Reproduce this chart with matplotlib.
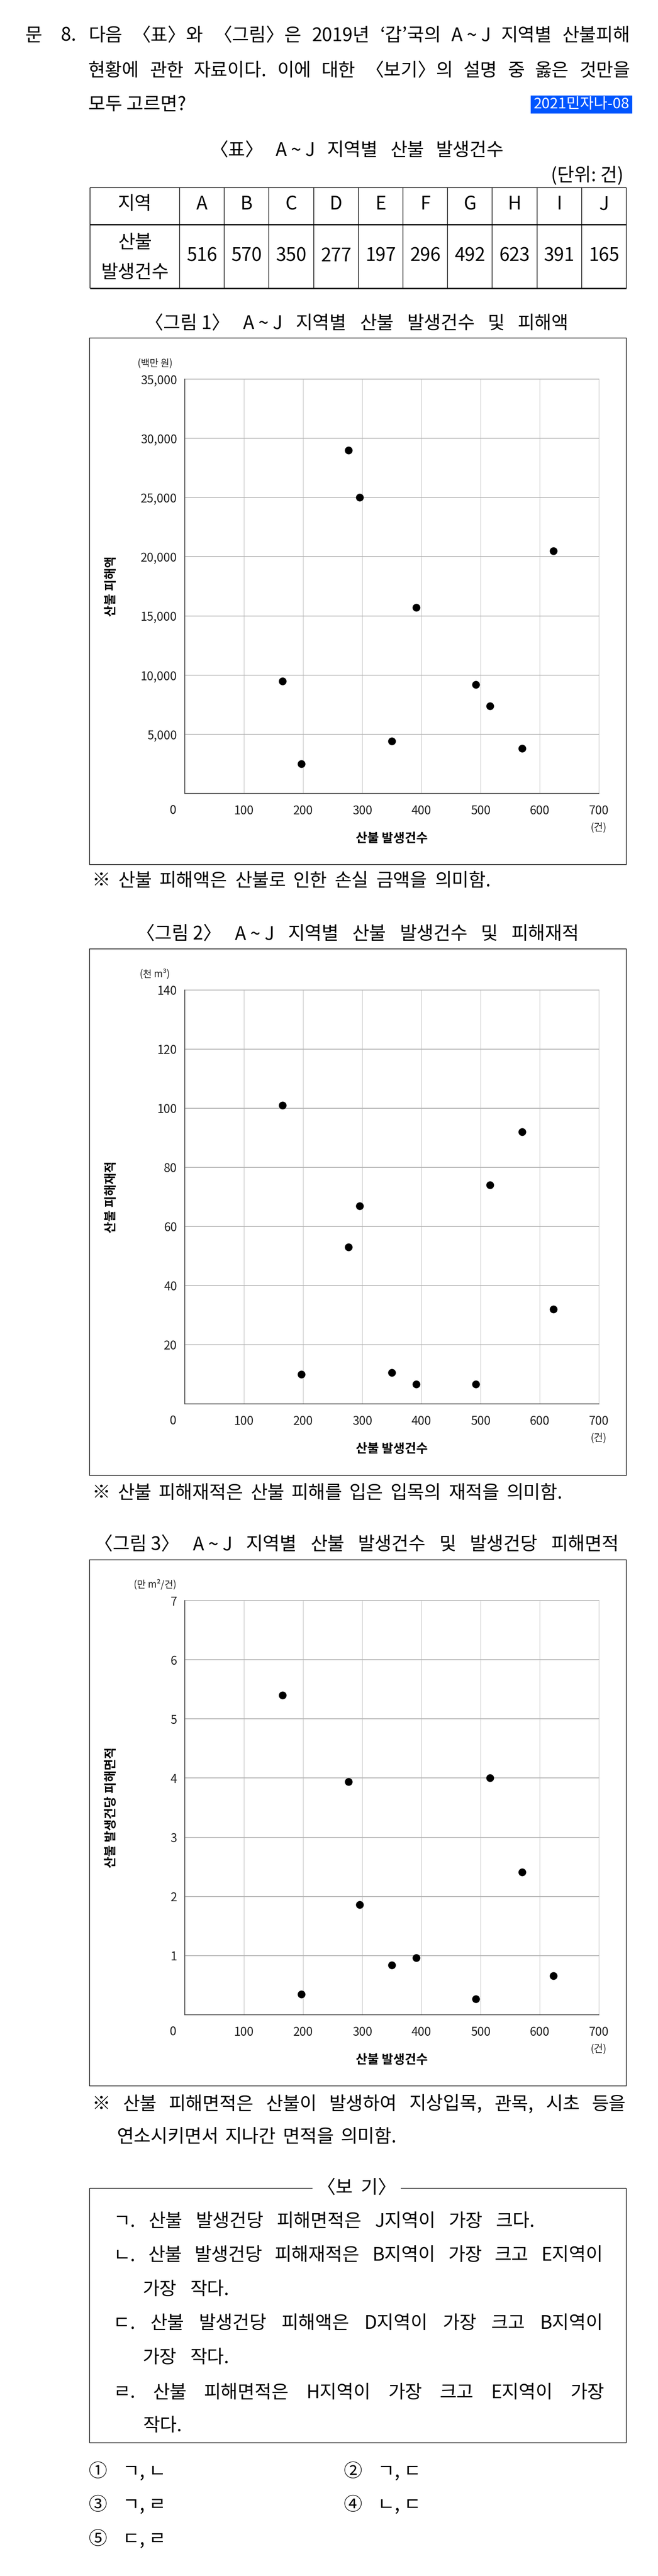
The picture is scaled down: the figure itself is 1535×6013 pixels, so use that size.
import matplotlib
matplotlib.use("Agg")
import matplotlib.pyplot as plt
from matplotlib.patches import Rectangle
from matplotlib.lines import Line2D
from matplotlib.ticker import FuncFormatter

plt.rcParams['font.family'] = ['Noto Sans CJK KR', 'DejaVu Sans']

# ---------------- data ----------------
regions = ['A', 'B', 'C', 'D', 'E', 'F', 'G', 'H', 'I', 'J']
fire_counts = [516, 570, 350, 277, 197, 296, 492, 623, 391, 165]
damage_amount = [7400, 3800, 4400, 29000, 2500, 25000, 9200, 20500, 15700, 9500]   # 백만 원
damage_volume = [74, 92, 10.6, 53, 10, 67, 6.6, 32, 6.6, 101]                     # 천 m3
area_per_fire = [4.0, 2.41, 0.84, 3.94, 0.35, 1.86, 0.27, 0.66, 0.96, 5.4]         # 만 m2/건

x_ticks = [0, 100, 200, 300, 400, 500, 600, 700]
fig1_yticks = [0, 5000, 10000, 15000, 20000, 25000, 30000, 35000]
fig2_yticks = [0, 20, 40, 60, 80, 100, 120, 140]
fig3_yticks = [0, 1, 2, 3, 4, 5, 6, 7]

# ---------------- figure helpers ----------------
W, H = 1535, 6013
fig = plt.figure(figsize=(W / 100, H / 100), dpi=100)
fig.patch.set_facecolor('white')
renderer = fig.canvas.get_renderer()

BODY = 31
TABLE = 31


def fx(x):
    return x / W


def fy(y):
    return 1 - y / H


def put(s, x, y, size=BODY, ha='left', va='center', **kw):
    return fig.text(fx(x), fy(y), s, fontsize=size, ha=ha, va=va, **kw)


def justify(words, x0, x1, y, size=BODY, **kw):
    ts = [put(w, 0, y, size, **kw) for w in words]
    ws = [t.get_window_extent(renderer).width for t in ts]
    if len(ts) > 1:
        gap = (x1 - x0 - sum(ws)) / (len(ts) - 1)
        gap = max(gap, size * 100 / 72 * 0.18)
    else:
        gap = 0
    x = x0
    for t, w in zip(ts, ws):
        t.set_x(fx(x))
        x += w + gap
    return ts


def hline(x0, x1, y, lw=1.1, color='black'):
    fig.add_artist(Line2D([fx(x0), fx(x1)], [fy(y), fy(y)], transform=fig.transFigure,
                          lw=lw, color=color, solid_capstyle='butt'))


def vline(x, y0, y1, lw=1.1, color='black'):
    fig.add_artist(Line2D([fx(x), fx(x)], [fy(y0), fy(y1)], transform=fig.transFigure,
                          lw=lw, color=color, solid_capstyle='butt'))


def frame(x0, y0, x1, y1, lw=1.1):
    fig.add_artist(Rectangle((fx(x0), fy(y1)), (x1 - x0) / W, (y1 - y0) / H,
                             transform=fig.transFigure, fill=False, lw=lw, ec='black'))


# ---------------- question text ----------------
put('문', 59, 84)
put('8.', 142, 84)
justify(['다음', '〈표〉와', '〈그림〉은', '2019년', '‘갑’국의', 'A ~ J', '지역별', '산불피해'],
        206, 1470, 84)
justify(['현황에', '관한', '자료이다.', '이에', '대한', '〈보기〉의', '설명', '중', '옳은', '것만을'],
        206, 1470, 166)
put('모두 고르면?', 206, 245)

fig.add_artist(Rectangle((fx(1238), fy(265)), (1475 - 1238) / W, (265 - 223) / H,
                         transform=fig.transFigure, fc='#0055ff', ec='none'))
put('2021민자나-08', 1356.5, 244, size=25, ha='center', color='white')

# ---------------- table ----------------
justify(['〈표〉', 'A ~ J', '지역별', '산불', '발생건수'], 490, 1175, 352)
put('(단위: 건)', 1455, 410, ha='right')

t_left, t_sep, t_right = 210, 419, 1461
t_top, t_mid, t_bot = 438, 524, 673
hline(t_left, t_right, t_top, lw=1.1)
hline(t_left, t_right, t_mid, lw=2.4)
hline(t_left, t_right, t_bot, lw=2.4)
vline(t_left, t_top, t_bot)
vline(t_right, t_top, t_bot)
col_w = (t_right - t_sep) / len(regions)
for i in range(len(regions)):
    vline(t_sep + col_w * i, t_top, t_bot)

put('지역', (t_left + t_sep) / 2, 477, size=TABLE, ha='center')
put('산불', (t_left + t_sep) / 2, 567, size=TABLE, ha='center')
put('발생건수', (t_left + t_sep) / 2, 637, size=TABLE, ha='center')
for i, (r, c) in enumerate(zip(regions, fire_counts)):
    cx = t_sep + col_w * (i + 0.5)
    put(r, cx, 477, size=TABLE, ha='center')
    put(str(c), cx, 598, size=TABLE, ha='center')


# ---------------- scatter charts ----------------
AX_L, AX_R = 431, 1397


def make_chart(top, bottom, yvals, yticks, ylabel, unit, fmt):
    ax = fig.add_axes([fx(AX_L), fy(bottom), (AX_R - AX_L) / W, (bottom - top) / H])
    ax.set_facecolor('white')
    ax.set_xlim(x_ticks[0], x_ticks[-1])
    ax.set_ylim(yticks[0], yticks[-1])
    ax.set_xticks(x_ticks)
    ax.set_yticks(yticks)
    ax.xaxis.set_major_formatter(FuncFormatter(lambda v, p: '' if v == 0 else f'{int(v)}'))
    ax.yaxis.set_major_formatter(FuncFormatter(lambda v, p: '' if v == 0 else fmt(v)))
    ax.tick_params(axis='both', length=0, labelsize=20, colors='#222222')
    ax.tick_params(axis='x', pad=29.5)
    ax.tick_params(axis='y', pad=13)
    for lbl in ax.get_xticklabels():
        lbl.set_va('center')
    ax.grid(axis='x', color='#c4c4c4', lw=0.9)
    ax.grid(axis='y', color='#b4b4b4', lw=1.4)
    ax.set_axisbelow(True)
    for ln in ax.get_xgridlines() + ax.get_ygridlines():
        ln.set_clip_on(False)
    for s in ['top', 'right']:
        ax.spines[s].set_visible(False)
    for s in ['left', 'bottom']:
        ax.spines[s].set_color('#444444')
        ax.spines[s].set_linewidth(1.3)
    ax.scatter(fire_counts, yvals, s=170, color='black', linewidths=0, zorder=3, clip_on=False)
    ax.set_xlabel('산불 발생건수', fontsize=21, fontweight='bold', va='center')
    ax.xaxis.set_label_coords(0.5, -0.109)
    ax.set_ylabel(ylabel, fontsize=21, fontweight='bold', va='center')
    ax.yaxis.set_label_coords(-0.178, 0.5)
    ax.text(-0.029, -0.041, '0', transform=ax.transAxes, ha='center', va='center',
            fontsize=20, color='#222222')
    ax.text(1.0, -0.083, '(건)', transform=ax.transAxes, ha='center', va='center',
            fontsize=17, color='#222222')
    ax.text(-0.072, 1.039, unit, transform=ax.transAxes, ha='center', va='center',
            fontsize=16, color='#222222')
    return ax


# figure 1
justify(['〈그림 1〉', 'A ~ J', '지역별', '산불', '발생건수', '및', '피해액'], 338, 1327, 756)
frame(209, 789, 1461, 2018)
make_chart(885, 1852, damage_amount, fig1_yticks, '산불 피해액', '(백만 원)',
           lambda v: f'{int(v):,}')
justify(['※', '산불', '피해액은', '산불로', '인한', '손실', '금액을', '의미함.'], 215, 1145, 2057)

# figure 2
justify(['〈그림 2〉', 'A ~ J', '지역별', '산불', '발생건수', '및', '피해재적'], 318, 1351, 2181)
frame(209, 2215, 1461, 3444)
make_chart(2311, 3277, damage_volume, fig2_yticks, '산불 피해재적', '(천 m³)',
           lambda v: f'{int(v)}')
justify(['※', '산불', '피해재적은', '산불', '피해를', '입은', '입목의', '재적을', '의미함.'],
        215, 1312, 3486)

# figure 3
justify(['〈그림 3〉', 'A ~ J', '지역별', '산불', '발생건수', '및', '발생건당', '피해면적'],
        220, 1444, 3606)
frame(209, 3641, 1461, 4869)
make_chart(3736, 4703, area_per_fire, fig3_yticks, '산불 발생건당 피해면적', '(만 m²/건)',
           lambda v: f'{int(v)}')
justify(['※', '산불', '피해면적은', '산불이', '발생하여', '지상입목,', '관목,', '시초', '등을'],
        215, 1460, 4913)
justify(['연소시키면서', '지나간', '면적을', '의미함.'], 272, 925, 4989)

# ---------------- 보기 box ----------------
bx0, bx1, by0, by1 = 209, 1461, 5108, 5702
hline(bx0, 729, by0)
hline(935, bx1, by0)
hline(bx0, bx1, by1)
vline(bx0, by0, by1)
vline(bx1, by0, by1)
put('〈보  기〉', 832, by0, ha='center')

justify(['ㄱ.', '산불', '발생건당', '피해면적은', 'J지역이', '가장', '크다.'], 264, 1248, 5186)
justify(['ㄴ.', '산불', '발생건당', '피해재적은', 'B지역이', '가장', '크고', 'E지역이'], 264, 1407, 5265)
justify(['가장', '작다.'], 333, 534, 5345)
justify(['ㄷ.', '산불', '발생건당', '피해액은', 'D지역이', '가장', '크고', 'B지역이'], 264, 1407, 5424)
justify(['가장', '작다.'], 333, 534, 5504)
justify(['ㄹ.', '산불', '피해면적은', 'H지역이', '가장', '크고', 'E지역이', '가장'], 264, 1410, 5586)
put('작다.', 333, 5663)

# ---------------- choices ----------------
choices = [('①', 'ㄱ, ㄴ'), ('②', 'ㄱ, ㄷ'), ('③', 'ㄱ, ㄹ'), ('④', 'ㄴ, ㄷ'), ('⑤', 'ㄷ, ㄹ')]
choice_rows = [5770, 5770, 5848, 5848, 5928]
choice_cols = [206, 801, 206, 801, 206]
for (num, txt), cy, cx in zip(choices, choice_rows, choice_cols):
    put(num, cx, cy)
    put(txt, cx + 80, cy)

fig.savefig('out.png', dpi=100, facecolor='white')
